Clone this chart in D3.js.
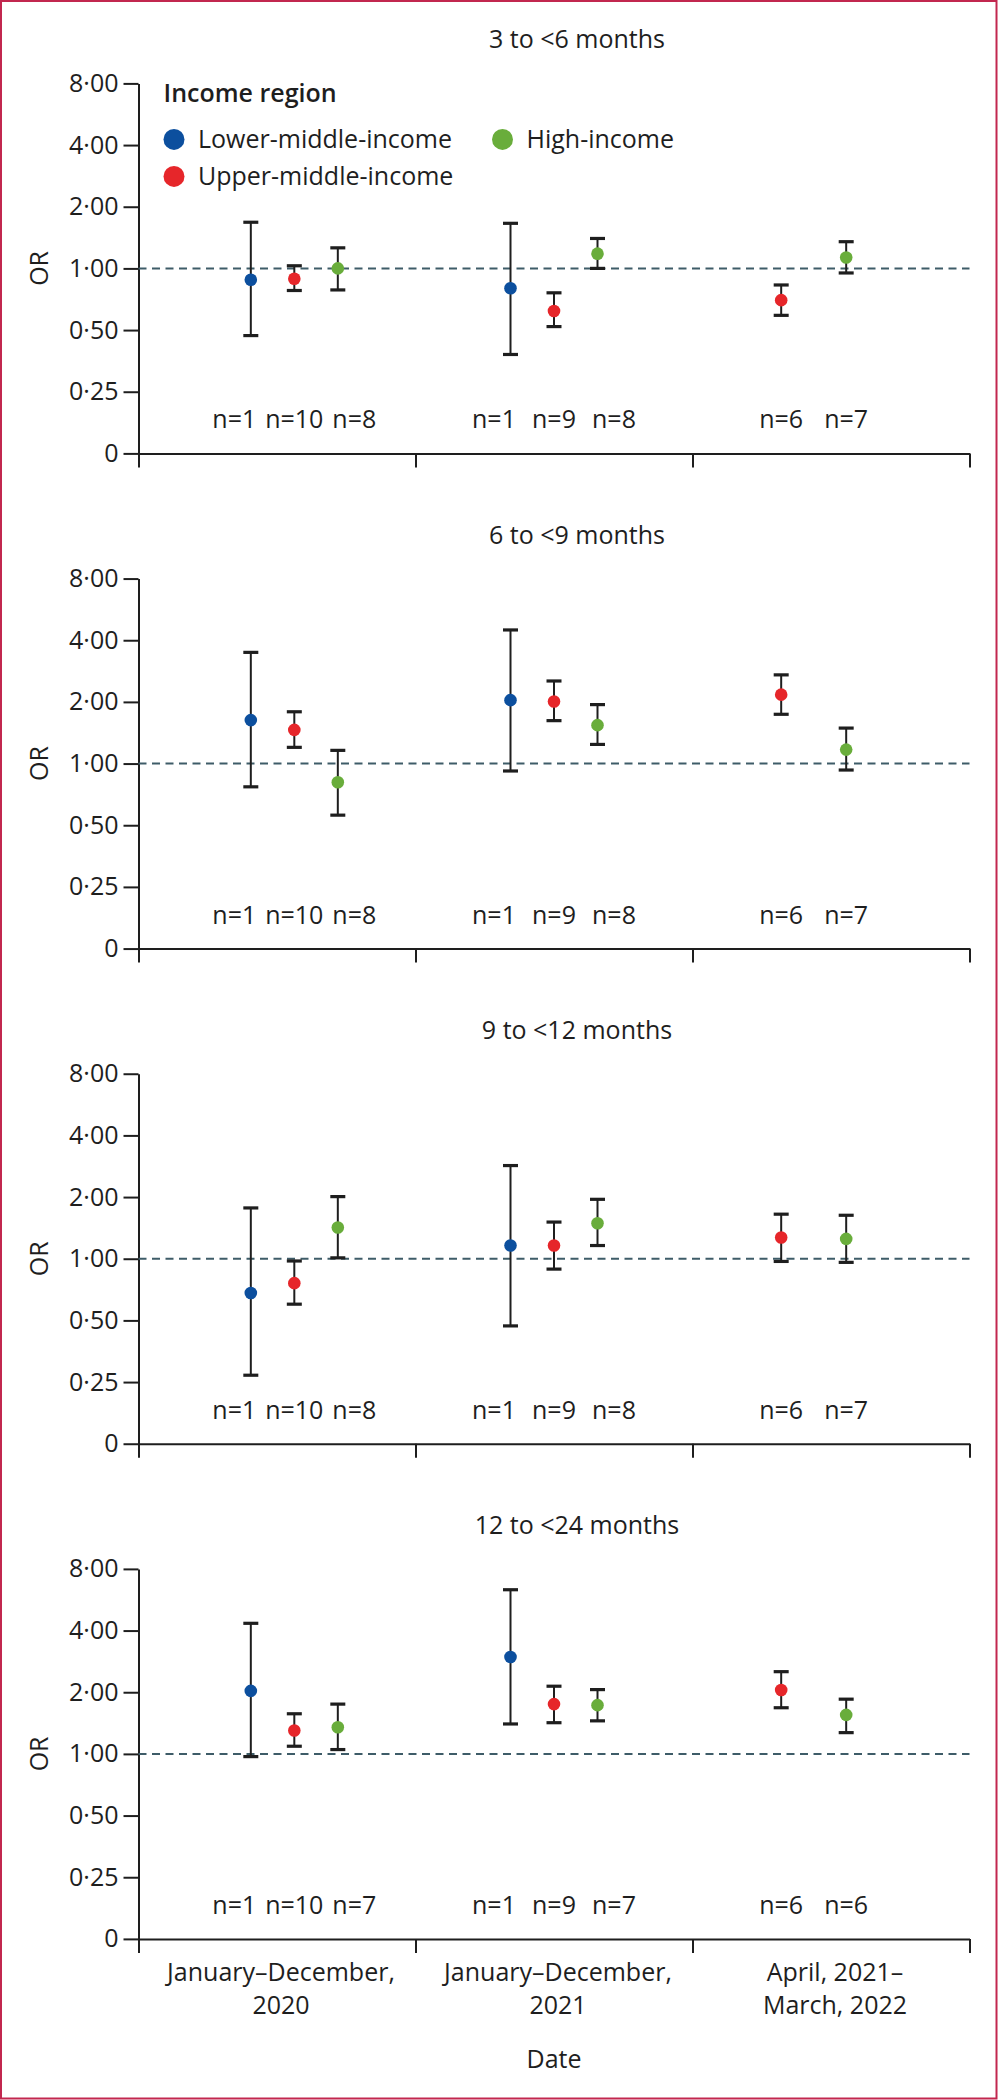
<!DOCTYPE html>
<html>
<head>
<meta charset="utf-8">
<script src="https://cdn.jsdelivr.net/npm/d3@7"></script>
<style>
html, body { margin: 0; padding: 0; background: #ffffff; }
svg { display: block; }
text { font-family: "Open Sans", "Noto Sans", "Liberation Sans", sans-serif; fill: #1e1e1e; }
</style>
</head>
<body>
<svg id="chart" width="998" height="2100"></svg>
<script>
// ---------------- DATA ----------------
const ageGroups = ["3 to <6 months", "6 to <9 months", "9 to <12 months", "12 to <24 months"];
const periods = ["January–December, 2020", "January–December, 2021", "April, 2021–March, 2022"];
const periodLabelLines = [["January–December,", "2020"], ["January–December,", "2021"], ["April, 2021–", "March, 2022"]];
const seriesNames = ["Lower-middle-income", "Upper-middle-income", "High-income"];
const seriesColors = ["#0c4f9e", "#e6262a", "#69ad3b"];
const yTickValues = [0.125, 0.25, 0.5, 1, 2, 4, 8];
const legendTitle = "Income region";
const yAxisTitle = "OR";
const xAxisTitle = "Date";

// rows = age group, columns = period (null = not reported)
const lowerMiddleOR   = [[0.88, 0.80, null], [1.63, 2.04, null], [0.68, 1.16, null], [2.03, 2.97, null]];
const lowerMiddleLow  = [[0.47, 0.38, null], [0.77, 0.92, null], [0.27, 0.47, null], [0.97, 1.40, null]];
const lowerMiddleHigh = [[1.68, 1.66, null], [3.49, 4.49, null], [1.77, 2.85, null], [4.34, 6.33, null]];
const lowerMiddleN    = [[1, 1, null], [1, 1, null], [1, 1, null], [1, 1, null]];

const upperMiddleOR   = [[0.89, 0.62, 0.70], [1.46, 2.01, 2.17], [0.76, 1.16, 1.27], [1.30, 1.75, 2.05]];
const upperMiddleLow  = [[0.78, 0.52, 0.59], [1.20, 1.62, 1.74], [0.60, 0.89, 0.97], [1.09, 1.42, 1.68]];
const upperMiddleHigh = [[1.03, 0.76, 0.83], [1.79, 2.53, 2.71], [0.975, 1.51, 1.65], [1.57, 2.14, 2.52]];
const upperMiddleN    = [[10, 9, 6], [10, 9, 6], [10, 9, 6], [10, 9, 6]];

const highOR   = [[1.00, 1.18, 1.13], [0.81, 1.54, 1.17], [1.42, 1.49, 1.25], [1.35, 1.73, 1.55]];
const highLow  = [[0.785, 1.00, 0.95], [0.56, 1.24, 0.93], [1.01, 1.16, 0.96], [1.05, 1.45, 1.27]];
const highHigh = [[1.26, 1.40, 1.35], [1.16, 1.94, 1.49], [2.01, 1.95, 1.63], [1.75, 2.06, 1.85]];
const highN    = [[8, 8, 7], [8, 8, 7], [8, 8, 7], [7, 7, 6]];

const seriesOR   = [lowerMiddleOR, upperMiddleOR, highOR];
const seriesLow  = [lowerMiddleLow, upperMiddleLow, highLow];
const seriesHigh = [lowerMiddleHigh, upperMiddleHigh, highHigh];
const seriesN    = [lowerMiddleN, upperMiddleN, highN];

// ---------------- LAYOUT ----------------
const W = 998, H = 2100;
const xRange = [138.5, 969.5];
const plotH = 370;
const FS = 25;
const ink = "#1e1e1e";

const svg = d3.select("#chart");
svg.append("rect").attr("width", W).attr("height", H).attr("fill", "#fff");
svg.append("rect")
  .attr("x", 1).attr("y", 1).attr("width", W - 2.5).attr("height", H - 2.5)
  .attr("fill", "none").attr("stroke", "#c2274f").attr("stroke-width", 2);

const panelTop = d3.scalePoint().domain(ageGroups).range([83.4, 1568.9]);
const xEdge = d3.scaleLinear().domain([0, periods.length]).range(xRange);
const xBand = d3.scaleBand().domain(periods).range(xRange);
const xGroup = d3.scalePoint().domain(periods).range(xRange).padding(0.6);

const fmtTick = d => d === 0.125 ? "0" : d3.format(".2f")(d).replace(".", "·");

ageGroups.forEach((age, ai) => {
  const top = panelTop(age);
  const bottom = top + plotH;
  const y = d3.scaleLog().base(2).domain([0.125, 8]).range([bottom, top]);
  const g = svg.append("g");

  // title
  g.append("text").attr("x", 577).attr("y", top - 35)
    .attr("text-anchor", "middle").attr("font-size", FS).text(age);

  // y axis
  const yAx = g.append("g").attr("transform", `translate(${xRange[0]},0)`)
    .call(d3.axisLeft(y).tickValues(yTickValues).tickFormat(fmtTick)
      .tickSize(15).tickPadding(5).tickSizeOuter(0));
  yAx.attr("font-size", FS);
  yAx.selectAll("path, line").attr("stroke", ink).attr("stroke-width", 2);
  yAx.selectAll("text").attr("fill", ink);

  // x axis (ticks at period boundaries)
  const xAx = g.append("g").attr("transform", `translate(0,${bottom})`)
    .call(d3.axisBottom(xEdge).tickValues(d3.range(periods.length + 1))
      .tickFormat("").tickSize(14).tickSizeOuter(0));
  xAx.selectAll("path, line").attr("stroke", ink).attr("stroke-width", 2);

  // OR label
  g.append("text")
    .attr("transform", `translate(48,${(top + bottom) / 2}) rotate(-90)`)
    .attr("text-anchor", "middle").attr("font-size", FS).text(yAxisTitle);

  // reference line at OR = 1
  g.append("line")
    .attr("x1", xRange[0]).attr("x2", xRange[1])
    .attr("y1", y(1)).attr("y2", y(1))
    .attr("stroke", "#3e5c68").attr("stroke-width", 2)
    .attr("stroke-dasharray", "8,5.5");

  // points
  periods.forEach((p, pi) => {
    const present = seriesNames.map((s, si) => si).filter(si => seriesOR[si][ai][pi] != null);
    const span = present.length === 3 ? 87 : 65;
    const labelSpan = present.length === 3 ? 120 : 65;
    const inner = d3.scalePoint().domain(present).range([-span / 2, span / 2]);
    const innerLabel = d3.scalePoint().domain(present).range([-labelSpan / 2, labelSpan / 2]);
    present.forEach(si => {
      const cx = xGroup(p) + inner(si);
      const lo = seriesLow[si][ai][pi], hi = seriesHigh[si][ai][pi], v = seriesOR[si][ai][pi];
      g.append("line").attr("x1", cx).attr("x2", cx)
        .attr("y1", y(lo)).attr("y2", y(hi))
        .attr("stroke", ink).attr("stroke-width", 2);
      [lo, hi].forEach(b => {
        g.append("line").attr("x1", cx - 7.5).attr("x2", cx + 7.5)
          .attr("y1", y(b)).attr("y2", y(b))
          .attr("stroke", ink).attr("stroke-width", 3.2);
      });
      g.append("circle").attr("cx", cx).attr("cy", y(v)).attr("r", 6.3)
        .attr("fill", seriesColors[si]);
      g.append("text").attr("x", xGroup(p) + innerLabel(si)).attr("y", bottom - 25)
        .attr("text-anchor", "middle").attr("font-size", FS)
        .text("n=" + seriesN[si][ai][pi]);
    });
  });

  // legend in the first panel
  if (ai === 0) {
    const lg = g.append("g");
    lg.append("text").attr("x", xRange[0] + 25).attr("y", top + 19)
      .attr("font-size", FS).attr("font-weight", 600).text(legendTitle);
    const cols = [xRange[0] + 35.5, xRange[0] + 364];
    const itemPos = [[0, 0], [0, 1], [1, 0]];
    seriesNames.forEach((s, si) => {
      const cx = cols[itemPos[si][0]];
      const cy = top + 56 + itemPos[si][1] * 37;
      lg.append("circle").attr("cx", cx).attr("cy", cy).attr("r", 10.5).attr("fill", seriesColors[si]);
      lg.append("text").attr("x", cx + 24).attr("y", cy + 9).attr("font-size", FS).text(s);
    });
  }

  // period labels in the last panel
  if (ai === ageGroups.length - 1) {
    periods.forEach((p, pi) => {
      const t = g.append("text").attr("text-anchor", "middle").attr("font-size", FS)
        .attr("x", xBand(p) + xBand.bandwidth() / 2 + 4).attr("y", bottom + 42);
      periodLabelLines[pi].forEach((line, li) => {
        t.append("tspan").attr("x", xBand(p) + xBand.bandwidth() / 2 + 4)
          .attr("dy", li === 0 ? 0 : 33.5).text(line);
      });
    });
    g.append("text").attr("x", (xRange[0] + xRange[1]) / 2).attr("y", bottom + 129)
      .attr("text-anchor", "middle").attr("font-size", FS).text(xAxisTitle);
  }
});
</script>
</body>
</html>
